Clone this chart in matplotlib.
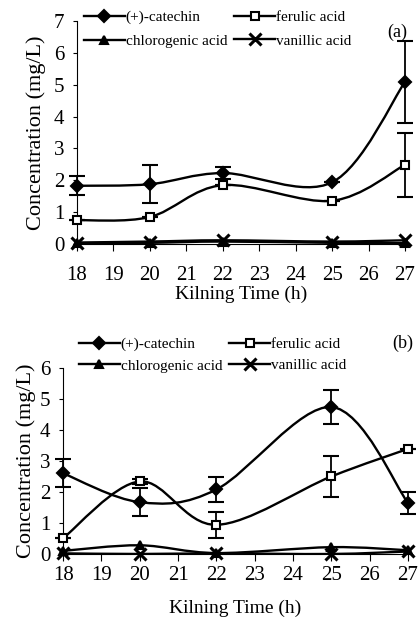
import numpy as np
import matplotlib.pyplot as plt
from matplotlib.path import Path
from matplotlib.patches import PathPatch
from matplotlib.lines import Line2D

plt.rcParams['font.family'] = ['Liberation Serif', 'DejaVu Serif']

hours = [18, 20, 22, 25, 27]

# panel (a)
cat_a = [1.83, 1.88, 2.23, 1.94, 5.09]
cat_a_err = [0.30, 0.60, 0.20, 0.0, 1.28]
fer_a = [0.75, 0.85, 1.85, 1.36, 2.49]
fer_a_err = [0.0, 0.0, 0.0, 0.0, 1.0]
chl_a = [0.02, 0.04, 0.08, 0.04, 0.03]
van_a = [0.05, 0.08, 0.12, 0.08, 0.12]

# panel (b)
cat_b = [2.60, 1.67, 2.08, 4.74, 1.65]
cat_b_err = [0.45, 0.45, 0.40, 0.56, 0.35]
fer_b = [0.51, 2.34, 0.94, 2.50, 3.39]
fer_b_err = [0.0, 0.08, 0.42, 0.67, 0.0]
chl_b = [0.10, 0.28, 0.03, 0.22, 0.12]
van_b = [0.02, 0.0, 0.02, 0.0, 0.08]

names = ['(+)-catechin', 'ferulic acid', 'chlorogenic acid', 'vanillic acid']
markers = ['D', 's', '^', 'x']


def smooth(ax, x, y):
    # excel-like smoothed line: cubic bezier through the points
    x = np.asarray(x, float)
    y = np.asarray(y, float)
    px = np.concatenate([[x[0]], x, [x[-1]]])
    py = np.concatenate([[y[0]], y, [y[-1]]])
    verts = [(x[0], y[0])]
    codes = [Path.MOVETO]
    for i in range(1, len(x)):
        c1 = (px[i] + (px[i + 1] - px[i - 1]) / 6, py[i] + (py[i + 1] - py[i - 1]) / 6)
        c2 = (px[i + 1] - (px[i + 2] - px[i]) / 6, py[i + 1] - (py[i + 2] - py[i]) / 6)
        verts += [c1, c2, (x[i], y[i])]
        codes += [Path.CURVE4] * 3
    ax.add_patch(PathPatch(Path(verts, codes), fill=False, lw=1.7, color='black'))


def mstyle(m):
    return dict(ms=6 if m != 'x' else 8,
                mfc='white' if m == 's' else 'black', mec='black',
                mew=1.5 if m != 'x' else 2.2)


def panel(ax, series, errs, ymax, xpad, xlpad, ylpad):
    for (vals, m, err) in zip(series, markers, errs):
        smooth(ax, hours, vals)
        ax.errorbar(hours, vals, yerr=err, fmt=m, ecolor='black',
                    elinewidth=1.3, capsize=6, capthick=1.3,
                    clip_on=False, zorder=3, **mstyle(m))
    ax.set_xlim(18, 27)
    ax.set_ylim(0, ymax)
    ax.set_xticks(range(18, 28))
    ax.set_yticks(range(0, ymax + 1))
    for s in ['top', 'right']:
        ax.spines[s].set_visible(False)
    ax.tick_params(labelsize=15, direction='out')
    ax.tick_params(axis='x', length=5, pad=xpad)
    ax.tick_params(axis='y', length=3, pad=6)
    ax.set_xlabel('Kilning Time (h)', fontsize=14, labelpad=xlpad)
    ax.set_ylabel('Concentration (mg/L)', fontsize=16, labelpad=ylpad)
    # legend order row-wise: catechin, ferulic / chlorogenic, vanillic
    order = [0, 2, 1, 3]
    handles = [Line2D([], [], color='black', lw=1.7, marker=markers[i],
                      **mstyle(markers[i])) for i in order]
    labels = [names[i] for i in order]
    return handles, labels


fig = plt.figure(figsize=(4.18, 6.18), dpi=100)

ax1 = fig.add_axes([0.184, 0.605, 0.785, 0.361])
h, l = panel(ax1, [cat_a, fer_a, chl_a, van_a],
             [cat_a_err, fer_a_err, None, None], 7, 11, 0, 6)
fig.legend(h, l, ncol=2, loc='upper left', bbox_to_anchor=(0.2, 0.983),
           frameon=False, fontsize=11, handlelength=2.7, columnspacing=0.45,
           handletextpad=0.05, labelspacing=0.65, borderaxespad=0,
           borderpad=0)
fig.text(0.95, 0.947, '(a)', fontsize=13, ha='center', va='center')

ax2 = fig.add_axes([0.151, 0.1036, 0.825, 0.301])
h, l = panel(ax2, [cat_b, fer_b, chl_b, van_b],
             [cat_b_err, fer_b_err, None, None], 6, 4, 10, 3)
fig.legend(h, l, ncol=2, loc='upper left', bbox_to_anchor=(0.188, 0.454),
           frameon=False, fontsize=11, handlelength=2.7, columnspacing=0.45,
           handletextpad=0.05, labelspacing=0.5, borderaxespad=0,
           borderpad=0)
fig.text(0.964, 0.445, '(b)', fontsize=13, ha='center', va='center')

fig.savefig('out.png', dpi=100)
